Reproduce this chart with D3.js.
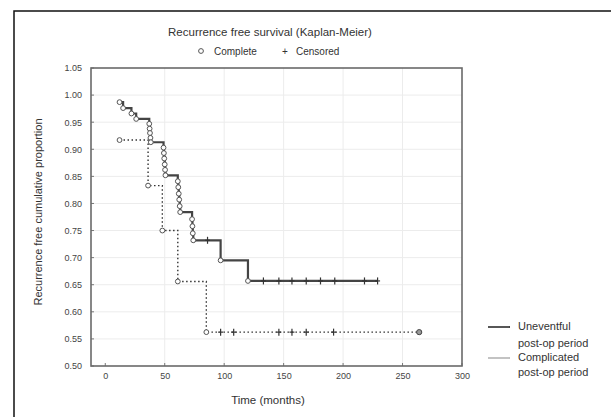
<!DOCTYPE html>
<html>
<head>
<meta charset="utf-8">
<script src="https://cdn.jsdelivr.net/npm/d3@7"></script>
<style>
  body { margin: 0; background: #fff; }
  svg { display: block; font-family: "Liberation Sans", Arial, sans-serif; }
</style>
</head>
<body>
<svg id="chart" width="611" height="417"></svg>
<script>
// Uneventful post-op period: event times (months) and survival after each event
const uneventfulTimes = [12, 15, 22, 26, 37, 37.3, 37.6, 38, 38.3, 49, 49.3, 49.6, 50, 50.3, 50.6,
  61, 61.4, 61.8, 62.2, 62.6, 63, 73, 73.3, 73.6, 74, 97, 120];
const uneventfulSurv = [0.987, 0.976, 0.966, 0.956, 0.947, 0.938, 0.930, 0.921, 0.913,
  0.903, 0.893, 0.883, 0.872, 0.862, 0.852,
  0.841, 0.830, 0.818, 0.807, 0.795, 0.784,
  0.771, 0.758, 0.745, 0.732, 0.695, 0.657];
const uneventfulCensored = [86, 133, 146, 157, 169, 181, 193, 218, 229];

// Complicated post-op period
const complicatedTimes = [12, 36, 48, 61, 85];
const complicatedSurv = [0.917, 0.833, 0.75, 0.656, 0.5625];
const complicatedCensored = [97, 108, 146, 157, 169, 192];
const complicatedEnd = 264;

const xTicks = [0, 50, 100, 150, 200, 250, 300];
const yTicks = [0.50, 0.55, 0.60, 0.65, 0.70, 0.75, 0.80, 0.85, 0.90, 0.95, 1.00, 1.05];

const svg = d3.select('#chart');
const ink = '#444';

// outer frame
svg.append('rect')
  .attr('x', 14).attr('y', 11)
  .attr('width', 640).attr('height', 440)
  .attr('fill', 'none')
  .attr('stroke', '#111')
  .attr('stroke-width', 1.5);

const plot = { left: 91, right: 462, top: 68, bottom: 366 };

const x = d3.scaleLinear().domain([-12, 300]).range([plot.left, plot.right]);
const y = d3.scaleLinear().domain([0.5, 1.05]).range([plot.bottom, plot.top]);

// faint grid
svg.append('g').selectAll('line')
  .data(xTicks.filter(d => d > 0 && d < 300))
  .enter().append('line')
  .attr('x1', d => x(d)).attr('x2', d => x(d))
  .attr('y1', plot.top).attr('y2', plot.bottom)
  .attr('stroke', '#ececec').attr('stroke-width', 1);
svg.append('g').selectAll('line')
  .data(yTicks.filter(d => d > 0.5 && d < 1.05))
  .enter().append('line')
  .attr('x1', plot.left).attr('x2', plot.right)
  .attr('y1', d => y(d)).attr('y2', d => y(d))
  .attr('stroke', '#ececec').attr('stroke-width', 1);

// axes
const xAxis = d3.axisBottom(x).tickValues(xTicks).tickFormat(d3.format('d')).tickSize(0).tickPadding(7);
const yAxis = d3.axisLeft(y).tickValues(yTicks).tickFormat(d3.format('.2f')).tickSize(0).tickPadding(9);

const gx = svg.append('g').attr('transform', `translate(0,${plot.bottom})`).call(xAxis);
const gy = svg.append('g').attr('transform', `translate(${plot.left},0)`).call(yAxis);
[gx, gy].forEach(g => {
  g.select('.domain').remove();
  g.selectAll('text').attr('fill', '#444').style('font-size', '9px');
});

// small inner ticks
svg.append('g').selectAll('line')
  .data(xTicks)
  .enter().append('line')
  .attr('x1', d => x(d)).attr('x2', d => x(d))
  .attr('y1', plot.bottom).attr('y2', plot.bottom - 3)
  .attr('stroke', '#777');
svg.append('g').selectAll('line')
  .data(yTicks)
  .enter().append('line')
  .attr('x1', plot.left).attr('x2', plot.left + 3)
  .attr('y1', d => y(d)).attr('y2', d => y(d))
  .attr('stroke', '#777');

svg.append('rect')
  .attr('x', plot.left).attr('y', plot.top)
  .attr('width', plot.right - plot.left).attr('height', plot.bottom - plot.top)
  .attr('fill', 'none')
  .attr('stroke', '#6a6a6a')
  .attr('stroke-width', 1.6);

// Kaplan-Meier step path
const stepPoints = (times, surv, endTime) => {
  const pts = [[times[0], surv[0]]];
  for (let i = 1; i < times.length; i++) {
    pts.push([times[i], surv[i - 1]]);
    pts.push([times[i], surv[i]]);
  }
  pts.push([endTime, surv[surv.length - 1]]);
  return pts;
};

const survAt = (times, surv, t) => {
  let s = 1;
  times.forEach((tt, i) => { if (tt <= t) s = surv[i]; });
  return s;
};

const line = d3.line().x(d => x(d[0])).y(d => y(d[1]));

const drawCurve = (times, surv, censored, endTime, style) => {
  svg.append('path')
    .attr('d', line(stepPoints(times, surv, endTime)))
    .attr('fill', 'none')
    .attr('stroke', style.color)
    .attr('stroke-width', style.width)
    .attr('stroke-dasharray', style.dash);

  svg.append('g').selectAll('circle')
    .data(times.map((t, i) => [t, surv[i]]))
    .enter().append('circle')
    .attr('cx', d => x(d[0]))
    .attr('cy', d => y(d[1]))
    .attr('r', 2.4)
    .attr('fill', '#fff')
    .attr('stroke', '#555')
    .attr('stroke-width', 1);

  const cens = svg.append('g').selectAll('g')
    .data(censored.map(t => [t, survAt(times, surv, t)]))
    .enter().append('g')
    .attr('transform', d => `translate(${x(d[0])},${y(d[1])})`);
  cens.append('line').attr('x1', 0).attr('x2', 0).attr('y1', -3.5).attr('y2', 3.5)
    .attr('stroke', '#333').attr('stroke-width', 1.2);
  cens.append('line').attr('x1', -2.5).attr('x2', 2.5).attr('y1', 0).attr('y2', 0)
    .attr('stroke', '#333').attr('stroke-width', 1.2);
};

drawCurve(complicatedTimes, complicatedSurv, complicatedCensored, complicatedEnd,
  { color: '#333', width: 1.4, dash: '1.5,2.5' });
drawCurve(uneventfulTimes, uneventfulSurv, uneventfulCensored, uneventfulCensored[uneventfulCensored.length - 1],
  { color: ink, width: 2.2, dash: null });

// end marker of complicated group
svg.append('circle')
  .attr('cx', x(complicatedEnd))
  .attr('cy', y(complicatedSurv[complicatedSurv.length - 1]))
  .attr('r', 2.6)
  .attr('fill', '#999')
  .attr('stroke', '#444');

// titles
svg.append('text')
  .attr('x', 270).attr('y', 36)
  .attr('text-anchor', 'middle')
  .attr('fill', '#333')
  .style('font-size', '11.5px')
  .text('Recurrence free survival (Kaplan-Meier)');

const key = svg.append('g').attr('fill', '#333').style('font-size', '10px');
key.append('circle').attr('cx', 201).attr('cy', 51).attr('r', 2.4)
  .attr('fill', '#fff').attr('stroke', '#555');
key.append('text').attr('x', 214).attr('y', 55).text('Complete');
key.append('text').attr('x', 282).attr('y', 55).text('+');
key.append('text').attr('x', 296).attr('y', 55).text('Censored');

svg.append('text')
  .attr('transform', `translate(42,${(plot.top + plot.bottom) / 2 - 5}) rotate(-90)`)
  .attr('text-anchor', 'middle')
  .attr('fill', '#333')
  .style('font-size', '11px')
  .text('Recurrence free cumulative proportion');

svg.append('text')
  .attr('x', 268).attr('y', 404)
  .attr('text-anchor', 'middle')
  .attr('fill', '#333')
  .style('font-size', '11.5px')
  .text('Time (months)');

// legend
const legend = svg.append('g').style('font-size', '11px').attr('fill', '#333');
legend.append('line').attr('x1', 488).attr('x2', 510).attr('y1', 327).attr('y2', 327)
  .attr('stroke', ink).attr('stroke-width', 1.8);
legend.append('text').attr('x', 518).attr('y', 330).text('Uneventful');
legend.append('text').attr('x', 518).attr('y', 347).text('post-op period');
legend.append('line').attr('x1', 488).attr('x2', 510).attr('y1', 358).attr('y2', 358)
  .attr('stroke', '#aaa').attr('stroke-width', 1.4);
legend.append('text').attr('x', 518).attr('y', 361).text('Complicated');
legend.append('text').attr('x', 518).attr('y', 376).text('post-op period');
</script>
</body>
</html>
